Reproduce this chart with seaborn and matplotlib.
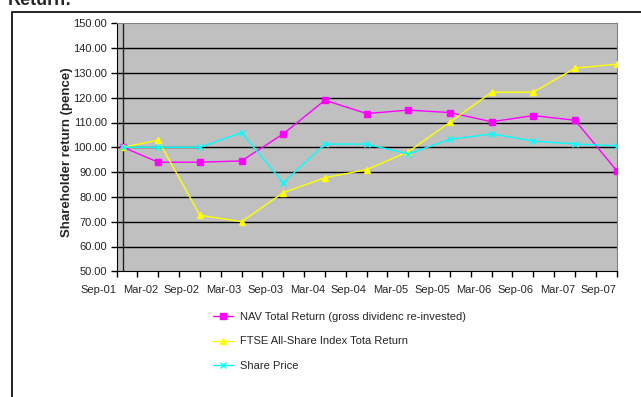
import pandas as pd
import seaborn as sns
import matplotlib.pyplot as plt
from matplotlib.patches import Rectangle

# -----------------------------------------
# Data (pence, rebased to 100)
# -----------------------------------------
dates = ["2001-10", "2002-03", "2002-09", "2003-03", "2003-09", "2004-03", "2004-09",
         "2005-03", "2005-09", "2006-03", "2006-09", "2007-03", "2007-09"]
nav_total_return = [100.0, 94.0, 94.0, 94.5, 105.4, 119.0, 113.6, 115.0, 114.0, 110.3, 112.8, 110.9, 90.6]
ftse_total_return = [100.0, 102.9, 72.6, 70.0, 81.7, 87.7, 91.0, 98.2, 110.1, 122.2, 122.2, 131.9, 133.5]
share_price = [100.0, 100.0, 100.0, 105.9, 85.7, 101.3, 101.3, 97.3, 103.2, 105.4, 102.5, 101.3, 100.6]

tick_labels = ["Sep-01", "Mar-02", "Sep-02", "Mar-03", "Sep-03", "Mar-04", "Sep-04",
               "Mar-05", "Sep-05", "Mar-06", "Sep-06", "Mar-07", "Sep-07"]

series_names = ["NAV Total Return (gross dividenc re-invested)",
                "FTSE All-Share Index Tota Return",
                "Share Price"]

# x position in half-years since Sep-01
start = pd.Period("2001-09", freq="M")
x_pos = [(pd.Period(d, freq="M") - start).n / 6 for d in dates]
x_pos[0] = 0.16  # first observation sits just after the Sep-01 mark

# -----------------------------------------
# Figure
# -----------------------------------------
sns.set_style("white")
plt.rcParams["font.family"] = ["Liberation Sans", "DejaVu Sans"]

fig = plt.figure(figsize=(6.41, 3.97), dpi=100)
W, H = 641, 397
ax = fig.add_axes([116.5 / W, 1 - 271.3 / H, 500.2 / W, 248 / H])
ax.set_facecolor("#C0C0C0")

# outer chart frame
fig.patches.append(Rectangle((12 / W, -0.1), 1.2, 1 - 12 / H + 0.1, transform=fig.transFigure,
                             fill=False, edgecolor="black", linewidth=1.2))
fig.text(8 / W, 1 - 5 / H, "Return:", fontsize=13, fontweight="bold", va="baseline")

# gridlines
for v in range(60, 150, 10):
    ax.axhline(v, color="black", linewidth=1, zorder=1)
ax.axvline(x_pos[0], color="#222222", linewidth=1, zorder=1)

styles = [(nav_total_return, "#FF00FF", "s"),
          (ftse_total_return, "#FFFF00", "^"),
          (share_price, "#00FFFF", "x")]
for name, (vals, col, mk) in zip(series_names, styles):
    sns.lineplot(x=x_pos, y=vals, color=col, marker=mk, markersize=5,
                 markeredgecolor=col, markeredgewidth=1, linewidth=1,
                 label=name, ax=ax, zorder=3, sort=False)

ax.set_xlim(0, 12)
ax.set_ylim(50, 150)
ax.set_yticks(range(50, 151, 10))
ax.set_yticklabels([f"{v:.2f}" for v in range(50, 151, 10)], fontsize=8)

ticks = [i * 0.5 for i in range(25)]
ax.set_xticks(ticks)
ax.set_xticklabels([tick_labels[int(t)] if t == int(t) else "" for t in ticks], fontsize=8)
# Excel puts each date label just left of its tick
plt.setp(ax.get_xticklabels(), ha="right")

ax.tick_params(axis="both", direction="out", length=4, width=1, color="black",
               bottom=True, left=True, pad=3)
ax.tick_params(axis="x", pad=6)

for side in ["top", "right"]:
    ax.spines[side].set_color("#808080")
ax.spines["left"].set_color("black")
ax.spines["bottom"].set_color("black")

ax.set_xlabel("")
ax.set_ylabel("Shareholder return (pence)", fontsize=9.5, fontweight="bold")
ax.yaxis.set_label_coords(-0.086, 0.48)

handles, labels = ax.get_legend_handles_labels()
ax.legend_.remove()
fig.legend(handles, labels, loc="upper left", bbox_to_anchor=(213 / W, 1 - 312 / H),
           frameon=False, fontsize=8, handlelength=1.8, handletextpad=0.6,
           labelspacing=1.3, borderpad=0, borderaxespad=0)

fig.savefig("out.png", dpi=100)
